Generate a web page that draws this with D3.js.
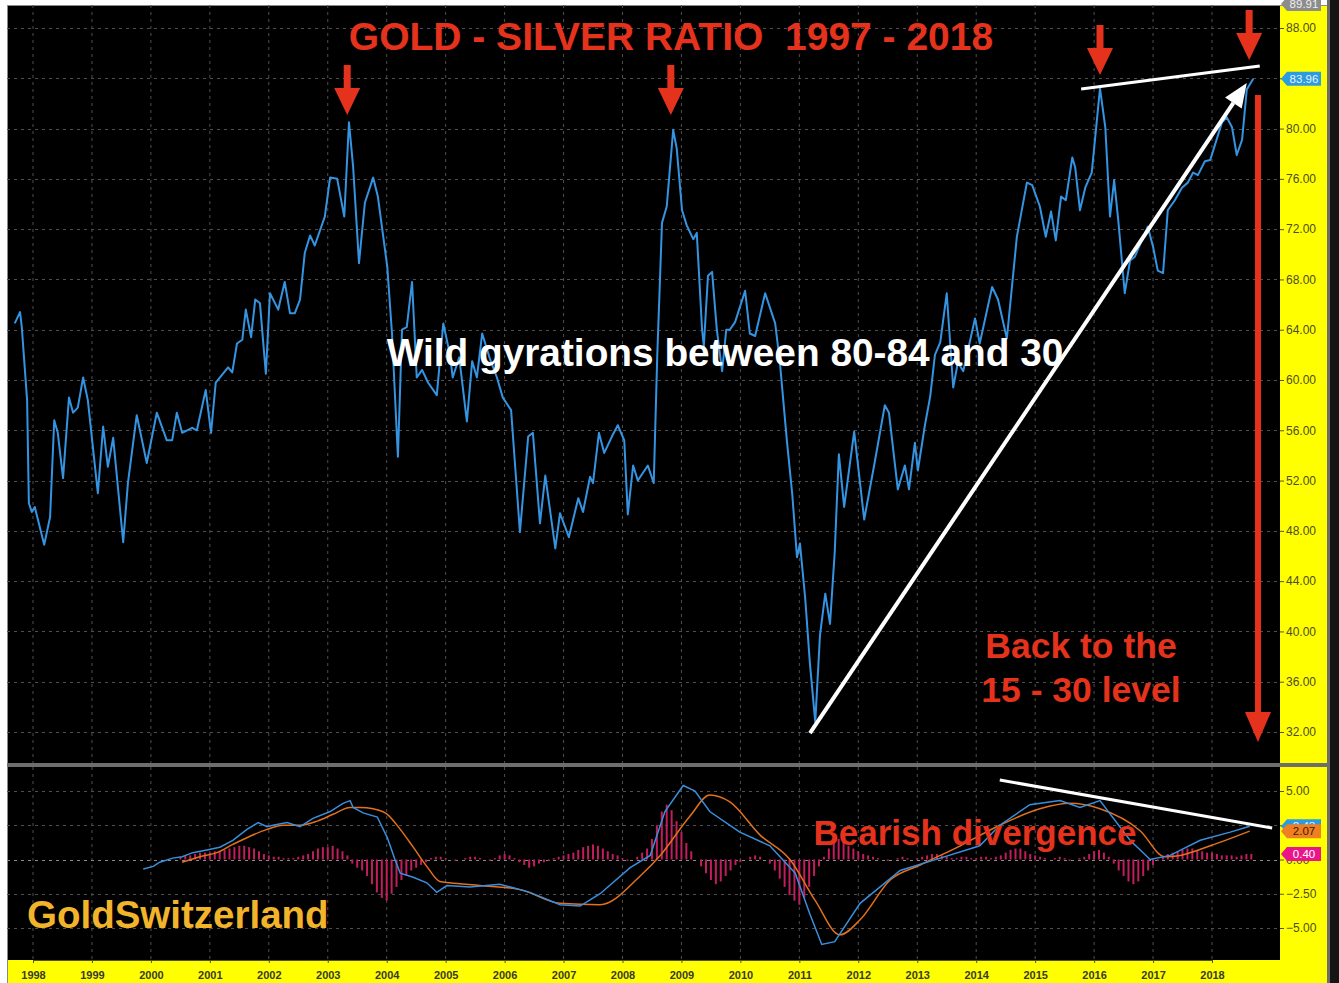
<!DOCTYPE html>
<html><head><meta charset="utf-8">
<script src="https://cdn.jsdelivr.net/npm/d3@7/dist/d3.min.js"></script>
<style>
html,body{margin:0;padding:0;background:#fff;}
svg{display:block;font-family:"Liberation Sans",Arial,Helvetica,sans-serif;}
</style></head><body>
<svg id="chart" width="1339" height="983"></svg>
<script>
// ---------------- DATA ----------------
const ratioDates = [1997.69,1997.78,1997.81,1997.90,1997.93,1997.98,1998.03,1998.19,1998.29,1998.36,
1998.42,1998.51,1998.61,1998.68,1998.76,1998.85,1998.93,1999.10,1999.19,1999.27,
1999.36,1999.53,1999.61,1999.76,1999.93,2000.10,2000.27,2000.36,2000.44,2000.53,
2000.70,2000.78,2000.93,2001.02,2001.10,2001.31,2001.38,2001.46,2001.55,2001.61,
2001.70,2001.77,2001.85,2001.95,2002.02,2002.16,2002.27,2002.36,2002.44,2002.53,
2002.61,2002.70,2002.78,2002.95,2003.04,2003.16,2003.28,2003.36,2003.43,2003.53,
2003.63,2003.77,2003.85,2004.01,2004.09,2004.19,2004.26,2004.34,2004.43,2004.51,
2004.60,2004.70,2004.85,2004.96,2005.07,2005.12,2005.23,2005.36,2005.45,2005.53,
2005.62,2005.75,2005.87,2005.97,2006.11,2006.26,2006.40,2006.48,2006.60,2006.69,
2006.86,2006.94,2007.09,2007.25,2007.33,2007.45,2007.50,2007.60,2007.69,2007.82,
2007.92,2008.03,2008.09,2008.18,2008.26,2008.43,2008.53,2008.59,2008.67,2008.75,
2008.86,2008.92,2009.01,2009.09,2009.20,2009.26,2009.35,2009.38,2009.45,2009.52,
2009.60,2009.69,2009.76,2009.82,2009.91,2010.08,2010.16,2010.25,2010.42,2010.59,
2010.67,2010.79,2010.88,2010.96,2011.01,2011.10,2011.18,2011.27,2011.35,2011.44,
2011.52,2011.60,2011.67,2011.76,2011.93,2012.10,2012.28,2012.45,2012.52,2012.67,
2012.79,2012.86,2012.96,2013.01,2013.13,2013.22,2013.30,2013.39,2013.50,2013.61,
2013.69,2013.78,2013.89,2013.98,2014.06,2014.27,2014.37,2014.52,2014.69,2014.86,
2014.95,2015.08,2015.18,2015.27,2015.35,2015.44,2015.52,2015.63,2015.68,2015.76,
2015.85,2015.96,2016.10,2016.19,2016.27,2016.34,2016.41,2016.52,2016.61,2016.69,
2016.81,2016.91,2017.00,2017.08,2017.17,2017.25,2017.37,2017.49,2017.59,2017.68,
2017.76,2017.88,2017.97,2018.09,2018.17,2018.25,2018.34,2018.42,2018.51,2018.59,
2018.70];
const ratioValues = [64.5,65.4,64.2,58.4,50.2,49.5,49.9,46.9,49.1,56.8,
55.8,52.2,58.6,57.4,57.8,60.2,58.4,51.0,56.3,53.1,
55.4,47.1,51.8,57.2,53.4,57.4,55.2,55.2,57.4,55.8,
56.2,56.0,59.2,55.8,59.8,61.0,60.6,62.9,63.2,65.6,
63.4,66.4,66.1,60.5,66.9,65.6,67.8,65.3,65.3,66.4,
70.1,71.5,70.7,73.0,76.1,76.0,73.0,80.5,77.0,69.3,
74.1,76.1,74.6,69.0,63.7,53.9,64.0,64.2,67.8,60.2,
60.8,59.8,58.8,64.5,62.1,60.2,61.8,56.7,61.5,60.2,
63.7,61.7,60.2,58.6,57.6,47.9,55.5,55.8,48.6,52.4,
46.6,49.4,47.5,50.6,49.5,52.3,51.8,55.8,54.2,55.5,
56.4,55.2,49.3,53.2,52.0,53.2,51.8,62.0,72.5,73.8,
79.9,78.4,73.5,72.3,71.2,71.7,64.0,62.7,68.3,68.6,
64.0,60.7,64.0,64.0,64.6,67.1,63.7,63.5,66.9,64.5,
61.4,55.1,50.9,45.9,47.0,42.6,37.4,32.8,39.7,43.0,
40.6,46.3,54.1,49.9,55.9,48.9,53.5,58.0,57.4,51.3,
53.2,51.3,55.0,52.8,56.4,58.7,62.0,63.0,66.9,59.4,
61.4,60.7,63.0,64.9,62.9,67.4,66.4,63.3,71.4,75.7,
75.5,73.8,71.4,73.4,71.1,74.6,74.3,77.7,76.9,73.5,
75.3,76.5,83.2,80.1,73.0,75.9,72.7,66.9,69.5,69.8,
71.1,72.2,70.6,68.7,68.5,73.5,74.3,75.3,75.7,76.5,
76.3,77.4,77.5,79.3,80.5,80.9,80.1,77.9,79.1,83.1,
83.96];

const macdDates = [1999.87,2000.04,2000.15,2000.37,2000.53,2000.71,2000.95,2001.17,2001.39,2001.63,
2001.82,2001.97,2002.07,2002.31,2002.53,2002.75,2003.04,2003.26,2003.38,2003.43,
2003.60,2003.84,2004.01,2004.14,2004.23,2004.45,2004.68,2004.85,2005.02,2005.41,
2005.92,2006.43,2006.94,2007.28,2007.62,2008.13,2008.47,2008.72,2009.03,2009.23,
2009.48,2009.99,2010.50,2010.93,2011.18,2011.38,2011.60,2012.03,2012.71,2013.39,
2014.06,2014.40,2014.91,2015.42,2015.76,2016.10,2016.61,2016.95,2017.29,2017.80,
2018.31,2018.64];
const macdValues = [-0.7,-0.5,-0.2,0.1,0.2,0.5,0.7,0.9,1.4,2.2,
2.7,2.4,2.5,2.7,2.4,3.0,3.5,4.1,4.3,3.8,
3.4,3.1,1.6,0.0,-1.0,-1.3,-1.7,-2.4,-1.9,-2.0,
-1.8,-2.4,-3.3,-3.4,-2.5,-0.6,0.3,3.5,5.4,5.0,
3.5,2.0,1.0,-1.0,-4.0,-6.2,-6.0,-3.2,-0.8,0.1,
1.0,2.5,4.0,4.3,3.8,4.3,1.4,0.0,0.3,1.4,
2.0,2.43];

const signalDates = [2000.53,2000.83,2001.12,2001.39,2001.68,2001.97,2002.24,2002.53,2002.82,2003.09,
2003.38,2003.55,2003.77,2004.01,2004.23,2004.45,2004.68,2004.90,2005.07,2005.58,
2006.26,2006.94,2007.62,2008.30,2008.64,2009.15,2009.48,2009.82,2010.33,2010.84,
2011.27,2011.69,2012.03,2012.54,2013.05,2013.73,2014.40,2015.08,2015.59,2016.10,
2016.78,2017.20,2017.46,2017.97,2018.64];
const signalValues = [-0.2,0.2,0.5,1.1,1.7,2.2,2.5,2.5,2.8,3.3,
3.8,3.8,3.7,3.3,2.2,0.9,-0.5,-1.6,-1.7,-1.9,
-2.2,-3.2,-3.3,-1.2,0.3,3.2,4.7,4.2,1.8,0.0,
-3.0,-5.5,-4.4,-1.5,-0.4,1.0,2.5,3.7,4.1,3.7,
2.1,0.2,0.3,1.0,2.07];

// monthly histogram, first bar = July 2000
const histStartYear = 2000.5;
const histValues = [0.2,0.3,0.3,0.4,0.5,0.5,
0.5,0.6,0.6,0.7,0.8,0.9,1.0,1.0,0.9,0.8,0.6,0.4,
0.3,0.2,0.2,0.1,0.1,0.1,0.2,0.3,0.4,0.6,0.8,0.9,
0.9,1.0,0.8,0.6,0.3,-0.3,-0.6,-0.8,-1.2,-1.8,-2.4,-2.8,
-3.0,-2.5,-2.0,-1.5,-1.2,-0.8,-0.6,-0.4,-0.2,0.1,0.2,0.2,
0.1,0.0,-0.1,0.0,0.1,0.2,0.2,0.1,0.0,-0.1,0.1,0.3,
0.4,0.3,0.1,-0.2,-0.4,-0.6,-0.5,-0.3,-0.2,-0.1,0.1,0.2,
0.3,0.4,0.5,0.7,0.9,1.0,1.1,1.0,0.8,0.6,0.4,0.3,
0.1,-0.1,0.0,0.2,0.5,0.8,1.5,2.5,3.5,4.0,3.6,2.8,
2.0,1.2,0.6,0.0,-0.5,-1.0,-1.5,-1.8,-1.6,-1.2,-0.8,-0.4,
-0.2,0.0,0.2,0.3,0.2,0.0,-0.3,-0.8,-1.4,-2.0,-2.6,-3.0,
-3.3,-2.8,-2.0,-1.2,-0.5,0.2,0.8,1.2,1.5,1.3,1.0,0.8,
0.6,0.4,0.3,0.2,0.1,0.0,-0.1,0.0,0.1,0.2,0.1,0.0,
0.1,0.2,0.3,0.4,0.4,0.3,0.2,0.1,0.1,0.2,0.2,0.1,
0.1,0.2,0.2,0.1,0.2,0.3,0.5,0.7,0.8,0.8,0.6,0.4,
0.3,0.2,0.1,0.0,0.1,0.2,0.1,-0.1,0.0,0.1,0.2,0.4,
0.6,0.7,0.5,0.2,-0.3,-0.8,-1.2,-1.6,-1.8,-1.6,-1.2,-0.8,
-0.4,-0.1,0.2,0.4,0.5,0.6,0.7,0.8,0.8,0.7,0.6,0.5,
0.5,0.4,0.3,0.3,0.3,0.2,0.3,0.4,0.4];

const yearTicks = [1998,1999,2000,2001,2002,2003,2004,2005,2006,2007,2008,2009,2010,2011,2012,2013,2014,2015,2016,2017,2018];
const ratioTicks = [32,36,40,44,48,52,56,60,64,68,72,76,80,84,88];
const macdTicks = [5,2.5,0,-2.5,-5];
const ratioTopValue = 89.91;
const macdLast = 2.43, signalLast = 2.07, histLast = 0.40;
// tick labels hidden behind the value tags in the reference
const hiddenRatioLabels = [84];
const hiddenMacdLabels = [2.5];

// ---------------- LAYOUT ----------------
const W = 1339, H = 983;
const L = 7, R = 1280, AX = 1327;
const mainTop = 5, mainBot = 763, lowTop = 767, lowBot = 960;
const RED = "#e5321d";

const svg = d3.select("#chart");
const x = d3.scaleLinear().domain([1998, 2018]).range([33, 1212]);
const yR = d3.scaleLinear().domain([32, 88]).range([732, 28]);
const yM = d3.scaleLinear().domain([-5, 5]).range([928, 791]);

// backgrounds
svg.append("rect").attr("width", W).attr("height", H).attr("fill", "#fff");
svg.append("rect").attr("x", L).attr("y", mainTop).attr("width", R - L).attr("height", lowBot - mainTop).attr("fill", "#000");
svg.append("rect").attr("x", R).attr("y", mainTop).attr("width", AX - R).attr("height", H - mainTop).attr("fill", "#ffff00");
svg.append("rect").attr("x", L).attr("y", lowBot).attr("width", AX - L).attr("height", H - lowBot).attr("fill", "#ffff00");
svg.append("rect").attr("x", AX).attr("y", 0).attr("width", W - AX).attr("height", H).attr("fill", "#151515");
svg.append("rect").attr("x", AX).attr("y", 0).attr("width", 3).attr("height", H).attr("fill", "#6d6d6d");
svg.append("line").attr("x1", L).attr("x2", AX).attr("y1", mainTop + 0.5).attr("y2", mainTop + 0.5).attr("stroke", "#8a8a8a");
svg.append("line").attr("x1", L + 0.5).attr("x2", L + 0.5).attr("y1", mainTop).attr("y2", H).attr("stroke", "#8a8a8a");

// clips
const defs = svg.append("defs");
defs.append("clipPath").attr("id", "clipMain").append("rect").attr("x", L).attr("y", mainTop).attr("width", R - L).attr("height", mainBot - mainTop);
defs.append("clipPath").attr("id", "clipLow").append("rect").attr("x", L).attr("y", lowTop).attr("width", R - L).attr("height", lowBot - lowTop);

// grids
const grid = svg.append("g").attr("stroke", "#4f4f4f").attr("stroke-dasharray", "3,4").attr("stroke-width", 1);
yearTicks.forEach(t => {
  grid.append("line").attr("x1", x(t)).attr("x2", x(t)).attr("y1", mainTop).attr("y2", mainBot);
  grid.append("line").attr("x1", x(t)).attr("x2", x(t)).attr("y1", lowTop).attr("y2", lowBot);
});
ratioTicks.forEach(v => grid.append("line").attr("x1", L).attr("x2", R).attr("y1", Math.round(yR(v)) + 0.5).attr("y2", Math.round(yR(v)) + 0.5));
macdTicks.forEach(v => grid.append("line").attr("x1", L).attr("x2", R).attr("y1", Math.round(yM(v)) + 0.5).attr("y2", Math.round(yM(v)) + 0.5)
  .attr("stroke", v === 0 ? "#8a8a8a" : "#4f4f4f"));

// separator
svg.append("rect").attr("x", L).attr("y", mainBot).attr("width", AX - L).attr("height", lowTop - mainBot).attr("fill", "#6e6e6e");

// ---- main ratio line
const gMain = svg.append("g").attr("clip-path", "url(#clipMain)");
gMain.append("path")
  .datum(d3.zip(ratioDates, ratioValues))
  .attr("fill", "none").attr("stroke", "#3494e2").attr("stroke-width", 2).attr("stroke-linejoin", "round")
  .attr("d", d3.line().x(d => x(d[0])).y(d => yR(d[1])));

// ---- lower panel
const gLow = svg.append("g").attr("clip-path", "url(#clipLow)");
const histData = histValues.map((v, i) => [histStartYear + i / 12, v]);
gLow.selectAll("rect.hist").data(histData).join("rect").attr("class", "hist")
  .attr("x", d => x(d[0]) - 1).attr("width", 2)
  .attr("y", d => Math.min(yM(d[1]), yM(0))).attr("height", d => Math.abs(yM(d[1]) - yM(0)))
  .attr("fill", "#c01e5c");
gLow.append("path").datum(d3.zip(signalDates, signalValues))
  .attr("fill", "none").attr("stroke", "#e3701c").attr("stroke-width", 1.5)
  .attr("d", d3.line().x(d => x(d[0])).y(d => yM(d[1])).curve(d3.curveMonotoneX));
gLow.append("path").datum(d3.zip(macdDates, macdValues))
  .attr("fill", "none").attr("stroke", "#3a8fdc").attr("stroke-width", 1.5)
  .attr("d", d3.line().x(d => x(d[0])).y(d => yM(d[1])));

// ---- axes
function styleAxis(g) {
  g.select(".domain").remove();
  g.selectAll("line").attr("stroke", "#55552a");
  g.selectAll("text").attr("fill", "#4d4d24").style("font-size", "12px").style("font-family", "'Liberation Sans',Arial,sans-serif");
}
const fmt2 = d3.format(".2f");
svg.append("g").attr("transform", `translate(${R},0)`)
  .call(d3.axisRight(yR).tickValues(ratioTicks).tickFormat(d => hiddenRatioLabels.includes(d) ? "" : fmt2(d)).tickSize(4).tickPadding(2))
  .call(styleAxis);
svg.append("g").attr("transform", `translate(${R},0)`)
  .call(d3.axisRight(yM).tickValues(macdTicks).tickFormat(d => hiddenMacdLabels.includes(d) ? "" : fmt2(d)).tickSize(4).tickPadding(2))
  .call(styleAxis);
const gx = svg.append("g").attr("transform", `translate(0,${lowBot})`)
  .call(d3.axisBottom(x).tickValues(yearTicks).tickFormat(d3.format("d")).tickSize(3).tickPadding(8));
gx.select(".domain").attr("stroke", "#55552a");
gx.selectAll("line").attr("stroke", "#55552a");
gx.selectAll("text").attr("fill", "#3a3a2a").style("font-size", "11px").style("font-weight", "bold")
  .style("font-family", "'Liberation Sans Narrow','Liberation Sans',Arial,sans-serif");

// value tags on the axis
function tag(yPix, label, fill, txt) {
  const g = svg.append("g");
  g.append("path").attr("d", `M${R + 1},${yPix} L${R + 7},${yPix - 7} L${R + 41},${yPix - 7} L${R + 41},${yPix + 7} L${R + 7},${yPix + 7} Z`).attr("fill", fill);
  g.append("text").attr("x", R + 24).attr("y", yPix + 4).attr("text-anchor", "middle")
    .attr("fill", txt).style("font-size", "11.5px").text(label);
}
tag(yR(ratioTopValue), fmt2(ratioTopValue), "#8c8c8c", "#eee");
tag(yR(ratioValues[ratioValues.length - 1]), fmt2(ratioValues[ratioValues.length - 1]), "#2c9be0", "#e8f4ff");
tag(yM(macdLast), fmt2(macdLast), "#2c9be0", "#e8f4ff");
tag(yM(signalLast), fmt2(signalLast), "#f07e22", "#3a2000");
tag(yM(histLast), fmt2(histLast), "#e8168a", "#fff");

// ---- annotations
const ann = svg.append("g");
function downArrow(t, topV, tipV, scale) {
  const cx = x(t), y0 = scale(topV), y1 = scale(tipV);
  const hh = 27, hw = 13, sw = 3.5;
  ann.append("path").attr("fill", RED)
    .attr("d", `M${cx - sw},${y0} L${cx + sw},${y0} L${cx + sw},${y1 - hh} L${cx + hw},${y1 - hh} L${cx},${y1} L${cx - hw},${y1 - hh} L${cx - sw},${y1 - hh} Z`);
}
downArrow(2003.33, 85.06, 81.08, yR);
downArrow(2008.82, 85.06, 81.08, yR);
downArrow(2016.10, 88.24, 84.26, yR);
downArrow(2018.63, 89.43, 85.45, yR);

// white resistance line on top
ann.append("line").attr("x1", x(2015.78)).attr("y1", yR(83.15)).attr("x2", x(2018.81)).attr("y2", yR(84.98))
  .attr("stroke", "#fff").attr("stroke-width", 3);

// white rising arrow
{
  const x1 = x(2011.18), y1 = yR(31.91), x2 = x(2018.59), y2 = yR(83.62);
  const ang = Math.atan2(y2 - y1, x2 - x1);
  const hl = 24, hw = 10;
  const bx = x2 - hl * Math.cos(ang), by = y2 - hl * Math.sin(ang);
  ann.append("line").attr("x1", x1).attr("y1", y1).attr("x2", bx).attr("y2", by).attr("stroke", "#fff").attr("stroke-width", 4);
  const px = -Math.sin(ang), py = Math.cos(ang);
  ann.append("path").attr("fill", "#fff")
    .attr("d", `M${x2},${y2} L${bx + px * hw},${by + py * hw} L${bx - px * hw},${by - py * hw} Z`);
}

// red vertical arrow
{
  const cx = x(2018.78), y0 = yR(82.67), y1 = yR(31.2);
  const hh = 30, hw = 13;
  ann.append("rect").attr("x", cx - 3).attr("y", y0).attr("width", 6).attr("height", y1 - hh - y0 + 1).attr("fill", RED);
  ann.append("path").attr("fill", RED).attr("d", `M${cx - hw},${y1 - hh} L${cx + hw},${y1 - hh} L${cx},${y1} Z`);
}

// white divergence line in lower panel
ann.append("line").attr("x1", x(2014.40)).attr("y1", yM(5.80)).attr("x2", x(2019.02)).attr("y2", yM(2.30))
  .attr("stroke", "#fff").attr("stroke-width", 3);

// texts
const txt = svg.append("g").style("font-weight", "bold").style("font-family", "'Liberation Sans',Arial,Helvetica,sans-serif");
txt.append("text").attr("x", 671).attr("y", 50).attr("text-anchor", "middle").attr("fill", RED)
  .style("font-size", "39px").style("white-space", "pre").text("GOLD - SILVER RATIO  1997 - 2018");
txt.append("text").attr("x", 725).attr("y", 366).attr("text-anchor", "middle").attr("fill", "#fff")
  .style("font-size", "38.8px").text("Wild gyrations between 80-84 and 30");
txt.append("text").attr("x", 1081).attr("y", 658).attr("text-anchor", "middle").attr("fill", RED)
  .style("font-size", "35.5px").text("Back to the");
txt.append("text").attr("x", 1081).attr("y", 702).attr("text-anchor", "middle").attr("fill", RED)
  .style("font-size", "35.5px").text("15 - 30 level");
txt.append("text").attr("x", 975).attr("y", 845).attr("text-anchor", "middle").attr("fill", RED)
  .style("font-size", "35px").text("Bearish divergence");
txt.append("text").attr("x", 27).attr("y", 928).attr("fill", "#f2b42a")
  .style("font-size", "38.5px").text("GoldSwitzerland");
</script>
</body></html>
